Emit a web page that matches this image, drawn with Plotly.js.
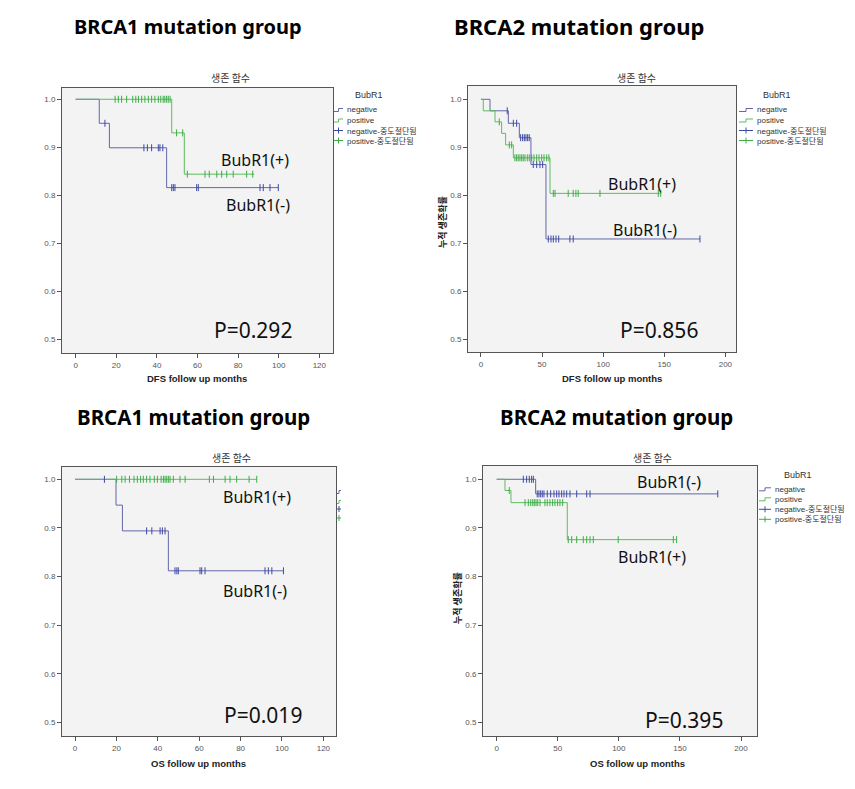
<!DOCTYPE html>
<html><head><meta charset="utf-8">
<script src="https://cdn.plot.ly/plotly-3.0.1.min.js"></script>
<style>html,body{margin:0;padding:0;background:#fff;} #chart{width:855px;height:789px;}</style>
</head><body><div id="chart"></div>
<script>
// ---------------- DATA ----------------
// Panel 1: BRCA1 DFS
const p1NegDropT = [11.6, 16.6, 44.8];
const p1NegDropS = [0.950, 0.899, 0.816];
const p1NegEnd = 99.8;
const p1NegCens = [14.4, 33.6, 35.3, 37.4, 40.7, 41.5, 42.9, 47.3, 48.1, 48.9, 59.6, 60.4, 90.8, 92.4, 95.7, 99.8];
const p1PosDropT = [47.3, 53.5];
const p1PosDropS = [0.930, 0.844];
const p1PosEnd = 88.0;
const p1PosCens = [19.4, 21.0, 22.6, 25.1, 28.1, 29.6, 30.9, 32.5, 34.1, 35.8, 37.4, 39.0, 40.7, 41.9, 43.1, 43.9, 44.8, 45.6, 46.5, 49.7, 52.7, 55.0, 63.7, 65.8, 69.5, 71.9, 74.4, 77.6, 84.2, 87.2];

// Panel 2: BRCA2 DFS
const p2NegDropT = [7.4, 22.4, 31.4, 40.9, 53.2];
const p2NegDropS = [0.976, 0.950, 0.920, 0.864, 0.709];
const p2NegEnd = 179.2;
const p2NegCens = [21.5, 26.5, 29.2, 32.5, 34.1, 35.5, 36.8, 38.2, 39.5, 42.8, 45.6, 48.3, 50.5, 55.1, 57.3, 59.2, 61.4, 63.6, 72.8, 75.5, 179.2];
const p2PosDropT = [1.9, 11.5, 16.9, 20.2, 26.5, 56.5];
const p2PosDropS = [0.976, 0.953, 0.929, 0.905, 0.878, 0.804];
const p2PosEnd = 147.1;
const p2PosCens = [15.0, 23.2, 25.1, 27.8, 29.2, 30.5, 31.9, 33.3, 34.6, 36.0, 37.9, 39.5, 41.5, 43.4, 45.6, 47.5, 49.7, 51.6, 53.8, 55.6, 59.2, 60.6, 71.4, 75.5, 77.7, 79.6, 97.4, 145.1, 147.1];

// Panel 3: BRCA1 OS
const p3NegDropT = [19.8, 22.9, 45.1];
const p3NegDropS = [0.947, 0.894, 0.812];
const p3NegEnd = 100.7;
const p3NegCens = [14.2, 34.6, 37.1, 41.1, 42.2, 43.5, 48.3, 49.2, 49.9, 60.4, 61.2, 62.8, 91.8, 93.4, 95.1, 100.7];
const p3PosDropT = [];
const p3PosDropS = [];
const p3PosEnd = 87.8;
const p3PosCens = [20.1, 22.6, 24.2, 26.3, 28.5, 30.1, 31.7, 33.0, 34.6, 36.2, 38.3, 39.8, 41.6, 42.7, 43.5, 44.3, 45.1, 45.9, 47.5, 50.7, 53.2, 64.9, 66.9, 72.5, 74.9, 78.1, 84.1, 87.8];

// Panel 4: BRCA2 OS
const p4NegDropT = [31.9];
const p4NegDropS = [0.970];
const p4NegEnd = 181.0;
const p4NegCens = [21.8, 24.5, 26.7, 28.6, 30.0, 33.2, 34.6, 36.0, 37.3, 38.7, 41.4, 44.2, 46.9, 49.1, 51.0, 53.2, 55.1, 57.3, 60.0, 65.5, 73.7, 76.4, 181.0];
const p4PosDropT = [6.8, 11.7, 57.8];
const p4PosDropS = [0.977, 0.952, 0.876];
const p4PosEnd = 147.3;
const p4PosCens = [10.3, 23.2, 25.9, 27.9, 29.5, 30.8, 32.2, 33.6, 35.5, 39.5, 41.4, 43.6, 45.8, 47.7, 49.9, 51.8, 54.0, 58.6, 61.4, 65.5, 70.9, 73.7, 76.4, 79.1, 99.5, 144.6, 147.3];

// Ticks and texts
const yTickVals = [0.5, 0.6, 0.7, 0.8, 0.9, 1.0];
const yTickText = ['0.5', '0.6', '0.7', '0.8', '0.9', '1.0'];
const xTickVals120 = [0, 20, 40, 60, 80, 100, 120];
const xTickVals200 = [0, 50, 100, 150, 200];
const headers = ['BRCA1 mutation group', 'BRCA2 mutation group', 'BRCA1 mutation group', 'BRCA2 mutation group'];
const xTitles = ['DFS follow up months', 'DFS follow up months', 'OS follow up months', 'OS follow up months'];
const pValues = ['P=0.292', 'P=0.856', 'P=0.019', 'P=0.395'];
const plotTitle = '생존 함수';
const yTitle = '누적 생존확률';
const legendTitle = 'BubR1';
const legendLabels = ['negative', 'positive', 'negative-중도절단됨', 'positive-중도절단됨'];
const grpPos = 'BubR1(+)', grpNeg = 'BubR1(-)';

// ---------------- HELPERS ----------------
const W = 855, H = 789;
const X = p => p / W, Y = p => 1 - p / H;
const BLUE = '#6367a8', BLUE_M = '#3d48a3', GREEN = '#5cbd5c', GREEN_M = '#3dad48';

function stepLine(dT, dS, end) {
  const x = [0].concat(dT, [end]);
  const last = dS.length ? dS[dS.length - 1] : 1;
  const y = [1].concat(dS, [last]);
  return {x, y};
}
function survAt(dT, dS, t) {
  let s = 1;
  for (let i = 0; i < dT.length; i++) if (dT[i] <= t) s = dS[i];
  return s;
}

const panelData = [
  {nT: p1NegDropT, nS: p1NegDropS, nE: p1NegEnd, nC: p1NegCens, pT: p1PosDropT, pS: p1PosDropS, pE: p1PosEnd, pC: p1PosCens},
  {nT: p2NegDropT, nS: p2NegDropS, nE: p2NegEnd, nC: p2NegCens, pT: p2PosDropT, pS: p2PosDropS, pE: p2PosEnd, pC: p2PosCens},
  {nT: p3NegDropT, nS: p3NegDropS, nE: p3NegEnd, nC: p3NegCens, pT: p3PosDropT, pS: p3PosDropS, pE: p3PosEnd, pC: p3PosCens},
  {nT: p4NegDropT, nS: p4NegDropS, nE: p4NegEnd, nC: p4NegCens, pT: p4PosDropT, pS: p4PosDropS, pE: p4PosEnd, pC: p4PosCens}
];

// layout geometry (pixels)
const geo = [
  {dx: [62, 333], dy: [88, 353], xr: [-6.75, 126.75], yr: [0.4715, 1.0235], xt: xTickVals120},
  {dx: [468, 736], dy: [86, 352], xr: [-10.6, 208.7], yr: [0.4735, 1.0277], xt: xTickVals200},
  {dx: [62, 336], dy: [467, 736], xr: [-6.3, 126.1], yr: [0.4726, 1.0253], xt: xTickVals120},
  {dx: [483, 757], dy: [466, 736], xr: [-11.2, 213.1], yr: [0.4726, 1.0273], xt: xTickVals200}
];

const traces = [];
const layout = {
  width: W, height: H,
  margin: {l: 0, r: 0, t: 0, b: 0, pad: 0},
  paper_bgcolor: '#ffffff', plot_bgcolor: '#f3f3f3',
  showlegend: false,
  font: {family: 'Liberation Sans, Arial, Noto Sans CJK KR', color: '#333'},
  annotations: [], shapes: []
};

panelData.forEach((d, i) => {
  const k = i === 0 ? '' : String(i + 1);
  const xa = 'x' + k, ya = 'y' + k;
  const n = stepLine(d.nT, d.nS, d.nE), p = stepLine(d.pT, d.pS, d.pE);
  traces.push({x: n.x, y: n.y, xaxis: xa, yaxis: ya, mode: 'lines', line: {shape: 'hv', color: BLUE, width: 1}, hoverinfo: 'skip'});
  traces.push({x: p.x, y: p.y, xaxis: xa, yaxis: ya, mode: 'lines', line: {shape: 'hv', color: GREEN, width: 1}, hoverinfo: 'skip'});
  traces.push({x: d.nC, y: d.nC.map(t => survAt(d.nT, d.nS, t)), xaxis: xa, yaxis: ya, mode: 'markers',
    marker: {symbol: 'line-ns-open', size: 5, color: BLUE_M, line: {color: BLUE_M, width: 1}}, hoverinfo: 'skip'});
  traces.push({x: d.pC, y: d.pC.map(t => survAt(d.pT, d.pS, t)), xaxis: xa, yaxis: ya, mode: 'markers',
    marker: {symbol: 'line-ns-open', size: 5, color: GREEN_M, line: {color: GREEN_M, width: 1}}, hoverinfo: 'skip'});

  const g = geo[i];
  layout['xaxis' + k] = {
    domain: [X(g.dx[0]), X(g.dx[1])], range: g.xr, anchor: ya,
    tickmode: 'array', tickvals: g.xt, ticktext: g.xt.map(String),
    ticks: 'outside', ticklen: 4, tickcolor: '#555', showline: true, mirror: true, linecolor: '#555', linewidth: 1,
    showgrid: false, zeroline: false, tickfont: {size: 8, color: '#555', family: 'Liberation Sans, Arial'}
  };
  layout['yaxis' + k] = {
    domain: [Y(g.dy[1]), Y(g.dy[0])], range: g.yr, anchor: xa,
    tickmode: 'array', tickvals: yTickVals, ticktext: yTickText,
    ticks: 'outside', ticklen: 4, tickcolor: '#555', showline: true, mirror: true, linecolor: '#555', linewidth: 1,
    showgrid: false, zeroline: false, tickfont: {size: 8, color: '#555', family: 'Liberation Sans, Arial'}
  };
});

function ann(text, px, py, size, opts) {
  layout.annotations.push(Object.assign({
    text: text, x: X(px), y: Y(py), xref: 'paper', yref: 'paper', showarrow: false,
    xanchor: 'center', yanchor: 'middle', font: {size: size, color: '#111', family: 'Noto Sans, Noto Sans CJK KR'}
  }, opts || {}));
}

// headers
const hdrPos = [[187.5, 26, 20], [579, 26, 22], [193.5, 417, 20.5], [616, 417, 20.5]];
hdrPos.forEach((h, i) => ann('<b>' + headers[i] + '</b>', h[0], h[1], h[2], {font: {size: h[2], color: '#000', family: 'Noto Sans, Open Sans'}}));

// panel titles
const ptPos = [[230, 77], [636, 77], [231, 457], [652, 457]];
ptPos.forEach(p => ann(plotTitle, p[0], p[1], 10, {font: {size: 10, color: '#333', family: 'Noto Sans CJK KR'}}));

// x titles
const xtPos = [[197, 378], [612, 378], [198, 763], [637.5, 763]];
xtPos.forEach((p, i) => ann('<b>' + xTitles[i] + '</b>', p[0], p[1], 9.5, {font: {size: 9.5, color: '#222', family: 'Liberation Sans, Arial'}}));

// y titles (visible ones)
ann('<b>' + yTitle + '</b>', 443, 222, 9, {textangle: -90, font: {size: 9, color: '#222', family: 'Noto Sans CJK KR'}});
ann('<b>' + yTitle + '</b>', 457, 598, 9, {textangle: -90, font: {size: 9, color: '#222', family: 'Noto Sans CJK KR'}});

// group labels and p-values
const grpLab = [
  [[grpPos, 255, 160], [grpNeg, 258, 205]],
  [[grpPos, 641.5, 184], [grpNeg, 645, 230]],
  [[grpPos, 257, 497], [grpNeg, 254.5, 591]],
  [[grpNeg, 669, 482], [grpPos, 651.5, 557]]
];
grpLab.forEach(arr => arr.forEach(a => ann(a[0], a[1], a[2], 16)));
const pvPos = [[253.5, 330], [659, 330], [262.5, 715], [684, 720]];
pvPos.forEach((p, i) => ann(pValues[i], p[0], p[1], 21));

// legends
function stepGlyph(x0, x1, y, c) {
  const m = (x0 + x1) / 2;
  layout.shapes.push({type: 'path', xref: 'paper', yref: 'paper',
    path: `M${X(x0)},${Y(y + 1.5)} L${X(m)},${Y(y + 1.5)} L${X(m)},${Y(y - 1.5)} L${X(x1)},${Y(y - 1.5)}`,
    line: {color: c, width: 1}});
}
function crossGlyph(x0, x1, y, c) {
  const m = (x0 + x1) / 2;
  layout.shapes.push({type: 'line', xref: 'paper', yref: 'paper', x0: X(x0), x1: X(x1), y0: Y(y), y1: Y(y), line: {color: c, width: 1}});
  layout.shapes.push({type: 'line', xref: 'paper', yref: 'paper', x0: X(m), x1: X(m), y0: Y(y - 3), y1: Y(y + 3), line: {color: c, width: 1}});
}
const legends = [
  {title: [369, 95], rows: [110, 120.5, 130.5, 140.5], sx: [334, 343], tx: 345},
  {title: [777, 95], rows: [110, 120.5, 130.5, 140.5], sx: [739, 753], tx: 755},
  {title: null, rows: [492, 502, 509, 518], sx: [337, 341], tx: null},
  {title: [798, 475], rows: [489.3, 499.3, 509.3, 519.3], sx: [759, 771], tx: 773}
];
legends.forEach(L => {
  const cols = [BLUE, GREEN, BLUE_M, GREEN_M];
  L.rows.forEach((r, j) => {
    if (j < 2) stepGlyph(L.sx[0], L.sx[1], r, cols[j]); else crossGlyph(L.sx[0], L.sx[1], r, cols[j]);
    if (L.tx !== null) ann(legendLabels[j], L.tx, r, 8, {xanchor: 'left', font: {size: 8, color: '#333', family: 'Liberation Sans, Arial, Noto Sans CJK KR'}});
  });
  if (L.title) ann(legendTitle, L.title[0], L.title[1], 9, {font: {size: 9, color: '#333', family: 'Liberation Sans, Arial'}});
});

Plotly.newPlot('chart', traces, layout, {staticPlot: true});
</script></body></html>
